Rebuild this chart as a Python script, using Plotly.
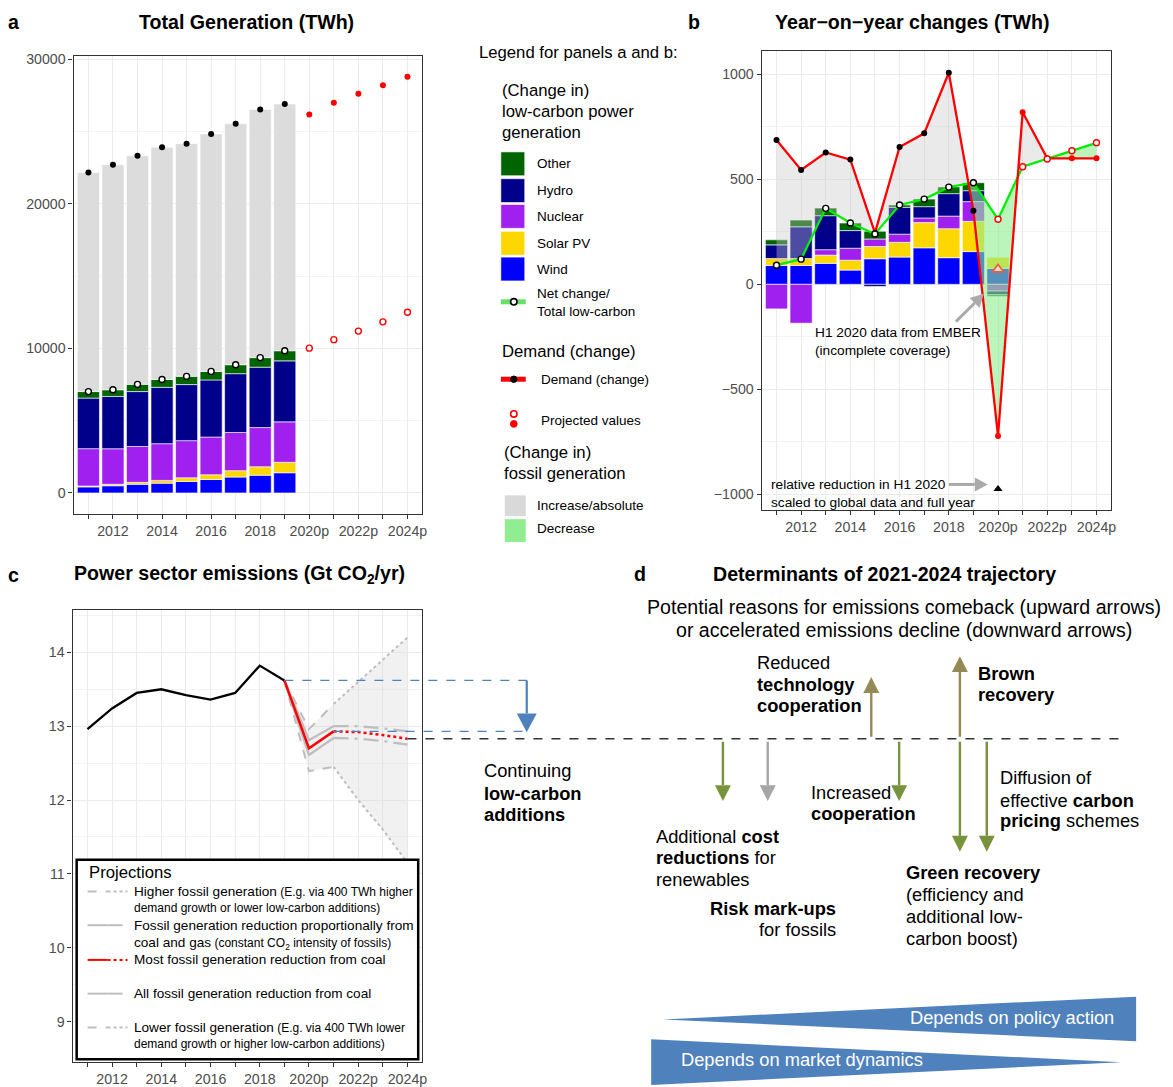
import math
import plotly.graph_objects as go

W, H = 1173, 1087
FONT = "Liberation Sans, Arial, Helvetica, sans-serif"

# ---------------- data ----------------
years_hist = list(range(2011, 2020))
years_proj = list(range(2020, 2025))
years_all = list(range(2011, 2025))
tick_text = ['', '2012', '', '2014', '', '2016', '', '2018', '', '2020p', '', '2022p', '', '2024p']

# panel a: generation by source (TWh)
gen_wind = [420, 500, 600, 680, 800, 930, 1100, 1230, 1400]
gen_solar = [65, 100, 135, 190, 250, 330, 445, 585, 720]
gen_nuclear = [2580, 2460, 2480, 2540, 2570, 2610, 2640, 2710, 2800]
gen_hydro = [3500, 3620, 3800, 3900, 3880, 3950, 4070, 4180, 4220]
gen_other = [450, 460, 500, 540, 570, 590, 620, 660, 700]
gen_total = [22170, 22710, 23330, 23920, 24170, 24830, 25540, 26530, 26910]
proj_total = [26180, 27000, 27620, 28210, 28800]
proj_lowcarbon = [10020, 10610, 11200, 11840, 12500]

# panel b: year-on-year changes (TWh); last bar entry = H1 2020 (EMBER)
chg_years = list(range(2011, 2021))
chg_wind = [90, 90, 100, 68, 122, 130, 174, 127, 156, 76]
chg_solar = [33, 33, 39, 47, 58, 70, 120, 138, 144, 53]
chg_nuclear = [-117, -185, 26, 57, 36, 39, 22, 60, 94, -32]
chg_hydro = [65, 151, 162, 84, -10, 128, 54, 107, 52, -18]
chg_other = [24, 32, 36, 36, 37, 11, 36, 32, 38, -8]
net_change = [91, 120, 362, 292, 240, 378, 406, 463, 484, 310, 560, 597, 636, 674]
demand_change = [687, 545, 628, 594, 245, 654, 719, 1008, 350, -722, 820, 600, 600, 600]
h1_net_2020 = 71
h1_scaled_2020 = -975

# panel c: emissions (Gt CO2/yr)
em_years = list(range(2011, 2020))
em_hist = [12.96, 13.24, 13.45, 13.50, 13.42, 13.36, 13.45, 13.82, 13.62]
sc_years = [2019, 2020, 2021, 2022, 2023, 2024]
sc_higher = [13.62, 12.96, 13.30, 13.60, 13.90, 14.20]
sc_prop = [13.62, 12.81, 13.00, 13.00, 12.97, 12.93]
sc_coal_most = [13.62, 12.70, 12.93, 12.92, 12.88, 12.83]
sc_coal_all = [13.62, 12.61, 12.84, 12.83, 12.80, 12.75]
sc_lower = [13.62, 12.39, 12.45, 12.00, 11.60, 11.15]

# ---------------- styling ----------------
C_WIND, C_SOLAR, C_NUC, C_HYDRO, C_OTHER = '#0000FF', '#FFD700', '#A020F0', '#00008B', '#006400'
C_FOSSIL = '#DCDCDC'
C_GREENFILL = 'rgba(144,238,144,0.6)'
C_GRAYFILL = 'rgba(200,200,200,0.38)'
C_BLUE = '#4F81BD'
C_KHAKI = '#948A54'
C_OLIVE = '#77933C'
C_SCEN = '#BEBEBE'

XR = [2010.4, 2024.6]
A_PX = dict(x=(74, 424), y=(52, 514)); A_YR = [-1470, 30260]
B_PX = dict(x=(765, 1116), y=(47, 510)); B_YR = [-1076, 1113]
C_PX = dict(x=(73, 424), y=(610, 1066)); C_YR = [8.45, 14.58]

# text sizes
S_TITLE = 19.6
S_D = 18.3
S_SUB = 19.6
S_LEGH = 16.7
S_LAB = 13.5
S_NOTE = 13.7
S_CLEG = 13.6
S_CSM = 12.0
S_TICK = 14.2


def X(px):
    return px / W


def Y(py):
    return 1 - py / H


def xdom(p):
    return [X(p['x'][0]), X(p['x'][1])]


def ydom(p):
    return [Y(p['y'][1]), Y(p['y'][0])]


def c_px_x(year):
    return C_PX['x'][0] + (year - XR[0]) / (XR[1] - XR[0]) * (C_PX['x'][1] - C_PX['x'][0])


def c_px_y(v):
    return C_PX['y'][1] - (v - C_YR[0]) / (C_YR[1] - C_YR[0]) * (C_PX['y'][1] - C_PX['y'][0])


fig = go.Figure()

# ---------------- panel a ----------------
comps_a = [(gen_wind, C_WIND), (gen_solar, C_SOLAR), (gen_nuclear, C_NUC), (gen_hydro, C_HYDRO), (gen_other, C_OTHER)]
for vals, col in comps_a:
    fig.add_trace(go.Bar(x=years_hist, y=vals, width=0.9, marker=dict(color=col, line=dict(color='white', width=0.6)),
                         xaxis='x', yaxis='y', showlegend=False, hoverinfo='skip'))
lowcarbon = [sum(v) for v in zip(gen_wind, gen_solar, gen_nuclear, gen_hydro, gen_other)]
fossil = [t - l for t, l in zip(gen_total, lowcarbon)]
fig.add_trace(go.Bar(x=years_hist, y=fossil, width=0.9, marker=dict(color=C_FOSSIL, line=dict(color='white', width=0.6)),
                     xaxis='x', yaxis='y', showlegend=False))
fig.add_trace(go.Scatter(x=years_hist, y=gen_total, mode='markers', marker=dict(color='black', size=6),
                         xaxis='x', yaxis='y', showlegend=False))
fig.add_trace(go.Scatter(x=years_hist, y=lowcarbon, mode='markers',
                         marker=dict(color='white', size=6, line=dict(color='black', width=1.4)),
                         xaxis='x', yaxis='y', showlegend=False))
fig.add_trace(go.Scatter(x=years_proj, y=proj_total, mode='markers', marker=dict(color='red', size=6),
                         xaxis='x', yaxis='y', showlegend=False))
fig.add_trace(go.Scatter(x=years_proj, y=proj_lowcarbon, mode='markers',
                         marker=dict(color='white', size=6, line=dict(color='red', width=1.4)),
                         xaxis='x', yaxis='y', showlegend=False))

# ---------------- panel b ----------------
comps_b = [(chg_wind, C_WIND), (chg_solar, C_SOLAR), (chg_nuclear, C_NUC), (chg_hydro, C_HYDRO), (chg_other, C_OTHER)]
for vals, col in comps_b:
    fig.add_trace(go.Bar(x=chg_years, y=vals, width=0.9, marker=dict(color=col, line=dict(color='white', width=0.6)),
                         xaxis='x2', yaxis='y2', showlegend=False))


def fill_segments(xs, top, bot):
    segs = []
    cx, ca, cb = [xs[0]], [top[0]], [bot[0]]
    sign = 1 if top[0] - bot[0] >= 0 else -1
    for i in range(1, len(xs)):
        d0 = top[i - 1] - bot[i - 1]
        d1 = top[i] - bot[i]
        if d0 * d1 < 0:
            t = d0 / (d0 - d1)
            xc = xs[i - 1] + t * (xs[i] - xs[i - 1])
            yc = top[i - 1] + t * (top[i] - top[i - 1])
            cx.append(xc); ca.append(yc); cb.append(yc)
            segs.append((sign, cx, ca, cb))
            cx, ca, cb = [xc], [yc], [yc]
            sign = 1 if d1 > 0 else -1
        cx.append(xs[i]); ca.append(top[i]); cb.append(bot[i])
    segs.append((sign, cx, ca, cb))
    return segs


for sign, sx, sa, sb in fill_segments(years_all, demand_change, net_change):
    fig.add_trace(go.Scatter(x=sx + sx[::-1], y=sa + sb[::-1], fill='toself', mode='lines', line=dict(width=0),
                             fillcolor=C_GRAYFILL if sign > 0 else C_GREENFILL,
                             xaxis='x2', yaxis='y2', showlegend=False, hoverinfo='skip'))

fig.add_trace(go.Scatter(x=years_all, y=net_change, mode='lines', line=dict(color='#00EE00', width=2.3),
                         xaxis='x2', yaxis='y2', showlegend=False))
fig.add_trace(go.Scatter(x=years_all, y=demand_change, mode='lines', line=dict(color='#FF0000', width=2.3),
                         xaxis='x2', yaxis='y2', showlegend=False))
nh = len(years_hist)
fig.add_trace(go.Scatter(x=years_hist, y=demand_change[:nh], mode='markers', marker=dict(color='black', size=6),
                         xaxis='x2', yaxis='y2', showlegend=False))
fig.add_trace(go.Scatter(x=years_proj, y=demand_change[nh:], mode='markers', marker=dict(color='red', size=6),
                         xaxis='x2', yaxis='y2', showlegend=False))
fig.add_trace(go.Scatter(x=years_hist, y=net_change[:nh], mode='markers',
                         marker=dict(color='white', size=6, line=dict(color='black', width=1.4)),
                         xaxis='x2', yaxis='y2', showlegend=False))
fig.add_trace(go.Scatter(x=years_proj, y=net_change[nh:], mode='markers',
                         marker=dict(color='white', size=6, line=dict(color='red', width=1.4)),
                         xaxis='x2', yaxis='y2', showlegend=False))
fig.add_trace(go.Scatter(x=[2020], y=[h1_net_2020], mode='markers',
                         marker=dict(symbol='triangle-up', color='rgba(255,235,215,0.8)', size=10,
                                     line=dict(color='#E8603C', width=1.6)),
                         xaxis='x2', yaxis='y2', showlegend=False))
fig.add_trace(go.Scatter(x=[2020], y=[h1_scaled_2020], mode='markers',
                         marker=dict(symbol='triangle-up', color='black', size=8),
                         xaxis='x2', yaxis='y2', showlegend=False))

# ---------------- panel c ----------------
fig.add_trace(go.Scatter(x=sc_years + sc_years[::-1], y=sc_higher + sc_lower[::-1], fill='toself', mode='lines',
                         line=dict(width=0), fillcolor='rgba(215,215,215,0.35)',
                         xaxis='x3', yaxis='y3', showlegend=False, hoverinfo='skip'))
scen_styles = [
    (sc_higher, 'dash', 'dot', C_SCEN, 2.0),
    (sc_lower, 'dash', 'dot', C_SCEN, 2.0),
    (sc_prop, 'solid', 'longdashdot', C_SCEN, 2.3),
    (sc_coal_all, 'solid', 'longdashdot', C_SCEN, 2.3),
    (sc_coal_most, 'solid', 'dot', '#FF0000', 2.5),
]
for vals, d1, d2, col, lw in scen_styles:
    fig.add_trace(go.Scatter(x=sc_years[:3], y=vals[:3], mode='lines', line=dict(color=col, width=lw, dash=d1),
                             xaxis='x3', yaxis='y3', showlegend=False))
    fig.add_trace(go.Scatter(x=sc_years[2:], y=vals[2:], mode='lines', line=dict(color=col, width=lw, dash=d2),
                             xaxis='x3', yaxis='y3', showlegend=False))
fig.add_trace(go.Scatter(x=em_years, y=em_hist, mode='lines', line=dict(color='black', width=2.3),
                         xaxis='x3', yaxis='y3', showlegend=False))

# ---------------- axes ----------------
common = dict(showline=True, mirror=True, linecolor='#333333', linewidth=1.4, ticks='outside', ticklen=4,
              tickwidth=1.1, tickcolor='#333333', tickfont=dict(size=S_TICK, color='#4D4D4D', family=FONT),
              showgrid=True, gridcolor='#EBEBEB', gridwidth=1.1, zeroline=False, fixedrange=True)
xcommon = dict(common, tickmode='array', tickvals=years_all, ticktext=tick_text, range=XR)

a_major = [0, 10000, 20000, 30000]
a_minor = [5000, 15000, 25000]
b_major = [-1000, -500, 0, 500, 1000]
b_labels = ['\u22121000', '\u2212500', '0', '500', '1000']
b_minor = [-750, -250, 250, 750]
c_major = [9, 10, 11, 12, 13, 14]
c_minor = [8.5, 9.5, 10.5, 11.5, 12.5, 13.5, 14.5]


def minor(vals):
    return dict(tickmode='array', tickvals=vals, showgrid=True, gridcolor='#F3F3F3', gridwidth=0.9, ticks='')


layout = dict(
    width=W, height=H, autosize=False, margin=dict(l=0, r=0, t=0, b=0),
    paper_bgcolor='white', plot_bgcolor='white', barmode='relative', bargap=0.1,
    font=dict(family=FONT, color='black'), showlegend=False,
    xaxis=dict(xcommon, domain=xdom(A_PX), anchor='y'),
    yaxis=dict(common, domain=ydom(A_PX), anchor='x', range=A_YR, tickmode='array', tickvals=a_major,
               ticktext=[str(v) for v in a_major], minor=minor(a_minor)),
    xaxis2=dict(xcommon, domain=xdom(B_PX), anchor='y2'),
    yaxis2=dict(common, domain=ydom(B_PX), anchor='x2', range=B_YR, tickmode='array', tickvals=b_major,
                ticktext=b_labels, minor=minor(b_minor)),
    xaxis3=dict(xcommon, domain=xdom(C_PX), anchor='y3'),
    yaxis3=dict(common, domain=ydom(C_PX), anchor='x3', range=C_YR, tickmode='array', tickvals=c_major,
                ticktext=[str(v) for v in c_major], minor=minor(c_minor)),
)
fig.update_layout(**layout)

# ---------------- annotations & shapes ----------------
ann = []
shapes = []


def text(x, y, s, size=S_D, anchor='left', color='black'):
    ann.append(dict(x=X(x), y=Y(y), xref='paper', yref='paper', text=s, showarrow=False, xanchor=anchor,
                    yanchor='middle', font=dict(size=size, color=color, family=FONT)))


def rect(x0, y0, x1, y1, fill, lc=None, lw=0):
    shapes.append(dict(type='rect', xref='paper', yref='paper', x0=X(x0), x1=X(x1), y0=Y(y1), y1=Y(y0),
                       fillcolor=fill, line=dict(color=lc or fill, width=lw), layer='above'))


def seg(x0, y0, x1, y1, color, width, dash='solid'):
    shapes.append(dict(type='line', xref='paper', yref='paper', x0=X(x0), x1=X(x1), y0=Y(y0), y1=Y(y1),
                       line=dict(color=color, width=width, dash=dash), layer='above'))


def poly(pts, fill):
    p = 'M ' + ' L '.join(f'{X(a):.5f},{Y(b):.5f}' for a, b in pts) + ' Z'
    shapes.append(dict(type='path', xref='paper', yref='paper', path=p, fillcolor=fill, line=dict(width=0),
                       layer='above'))


def dot(x, y, r, fill, lc, lw=1.3):
    shapes.append(dict(type='circle', xref='paper', yref='paper', x0=X(x - r), x1=X(x + r), y0=Y(y + r),
                       y1=Y(y - r), fillcolor=fill, line=dict(color=lc, width=lw), layer='above'))


def arrow2(x0, y0, x1, y1, color, lw=2.4, hw=8, hh=16):
    dx, dy = x1 - x0, y1 - y0
    L = math.hypot(dx, dy)
    ux, uy = dx / L, dy / L
    nx, ny = x1 - ux * hh, y1 - uy * hh
    px, py = -uy, ux
    seg(x0, y0, nx, ny, color, lw)
    poly([(nx + px * hw, ny + py * hw), (nx - px * hw, ny - py * hw), (x1, y1)], color)


def arrow(x, yb, yt, color, lw=2.4, hw=8, hh=16):
    arrow2(x, yb, x, yt, color, lw, hw, hh)


# titles
text(14, 18, '<b>a</b>', S_TITLE, 'center')
text(248, 18, '<b>Total Generation (TWh)</b>', S_TITLE, 'center')
text(697, 18, '<b>b</b>', S_TITLE, 'center')
text(916, 18, '<b>Year\u2212on\u2212year changes (TWh)</b>', S_TITLE, 'center')
text(14, 575, '<b>c</b>', S_TITLE, 'center')
text(241, 575, '<b>Power sector emissions (Gt CO<sub>2</sub>/yr)</b>', S_TITLE, 'center')
text(643, 574, '<b>d</b>', S_TITLE, 'center')
text(888, 574, '<b>Determinants of 2021-2024 trajectory</b>', S_TITLE, 'center')

# middle legend
text(479, 49, 'Legend for panels a and b:', S_LEGH)
text(502, 87, '(Change in)', S_LEGH)
text(502, 108, 'low-carbon power', S_LEGH)
text(502, 129, 'generation', S_LEGH)
leg_items = [('Other', C_OTHER, 149), ('Hydro', C_HYDRO, 176), ('Nuclear', C_NUC, 202), ('Solar PV', C_SOLAR, 229),
             ('Wind', C_WIND, 255)]
for name, col, y0 in leg_items:
    rect(503, y0, 527, y0 + 24, col, 'white', 0.6)
    text(537, y0 + 12, name, S_LAB)
seg(503, 300, 528, 300, '#66E066', 5)
dot(516, 300, 3.2, 'white', 'black', 1.6)
text(537, 292, 'Net change/', S_LAB)
text(537, 310, 'Total low-carbon', S_LAB)
text(502, 350, 'Demand (change)', S_LEGH)
seg(503, 378, 528, 378, '#FF0000', 5)
dot(516, 378, 3.2, 'black', 'black', 1)
text(541, 378, 'Demand (change)', S_LAB)
dot(516, 413, 3.2, 'white', 'red', 1.6)
dot(516, 423, 3.4, 'red', 'red', 1)
text(541, 420, 'Projected values', S_LAB)
text(504, 452, '(Change in)', S_LEGH)
text(504, 473, 'fossil generation', S_LEGH)
rect(507, 495, 528, 516, '#D9D9D9')
text(537, 505, 'Increase/absolute', S_LAB)
rect(507, 519, 528, 542, '#90EE90')
text(537, 528, 'Decrease', S_LAB)

# panel b notes
text(816, 331, 'H1 2020 data from EMBER', S_NOTE)
text(816, 349, '(incomplete coverage)', S_NOTE)
text(772, 484, 'relative reduction in H1 2020', S_NOTE)
text(772, 502, 'scaled to global data and full year', S_NOTE)
arrow2(960, 320, 988, 292, '#AAAAAA', lw=3, hw=7, hh=13)
arrow2(953, 484, 992, 484, '#AAAAAA', lw=3, hw=7, hh=13)

# panel c legend box
rect(77, 862, 420, 1063, 'white', 'black', 2.5)
text(87, 875, 'Projections', S_LEGH)
legend_rows = [
    (894, 'dash', 'dot', C_SCEN),
    (928, 'solid', 'longdashdot', C_SCEN),
    (963, 'solid', 'dot', '#FF0000'),
    (997, 'solid', 'longdashdot', C_SCEN),
    (1031, 'dash', 'dot', C_SCEN),
]
for yy, d1, d2, col in legend_rows:
    seg(88, yy, 108, yy, col, 2, d1)
    seg(108, yy, 128, yy, col, 2, d2)
text(133, 894, f"Higher fossil generation<span style='font-size:{S_CSM}px'> (E.g. via 400 TWh higher</span>", S_CLEG)
text(133, 911, 'demand growth or lower low-carbon additions)', S_CSM)
text(133, 928, 'Fossil generation reduction proportionally from', S_CLEG)
text(133, 946, f"coal and gas<span style='font-size:{S_CSM}px'> (constant CO<sub>2</sub> intensity of fossils)</span>", S_CLEG)
text(133, 963, 'Most fossil generation reduction from coal', S_CLEG)
text(133, 997, 'All fossil generation reduction from coal', S_CLEG)
text(133, 1031, f"Lower fossil generation<span style='font-size:{S_CSM}px'> (E.g. via 400 TWh lower</span>", S_CLEG)
text(133, 1048, 'demand growth or higher low-carbon additions)', S_CSM)

# connecting lines from panel c
y_2019 = c_px_y(em_hist[-1])
y_2021 = c_px_y(sc_coal_most[2])
y_2024 = c_px_y(sc_coal_most[-1])
XB = 529
seg(c_px_x(2019), y_2019, XB, y_2019, C_BLUE, 1.4, 'dash')
seg(c_px_x(2021), y_2021, XB, y_2021, C_BLUE, 1.4, 'dash')
arrow(XB, y_2019, y_2021 + 1, C_BLUE, lw=2.2, hw=10, hh=19)
seg(c_px_x(2024), y_2024, 1127, y_2024, '#333333', 1.3, 'dash')

# panel d text
text(908, 607, 'Potential reasons for emissions comeback (upward arrows)', S_SUB, 'center')
text(908, 631, 'or accelerated emissions decline (downward arrows)', S_SUB, 'center')
text(484, 772, 'Continuing', S_D)
text(484, 795, '<b>low-carbon</b>', S_D)
text(484, 817, '<b>additions</b>', S_D)
text(758, 663, 'Reduced', S_D)
text(758, 686, '<b>technology</b>', S_D)
text(758, 707, '<b>cooperation</b>', S_D)
text(980, 674, '<b>Brown</b>', S_D)
text(980, 696, '<b>recovery</b>', S_D)
text(657, 839, 'Additional <b>cost</b>', S_D)
text(657, 860, '<b>reductions</b> for', S_D)
text(657, 882, 'renewables', S_D)
text(812, 794, 'Increased', S_D)
text(812, 816, '<b>cooperation</b>', S_D)
text(1002, 779, 'Diffusion of', S_D)
text(1002, 802, 'effective <b>carbon</b>', S_D)
text(1002, 823, '<b>pricing</b> schemes', S_D)
text(908, 875, '<b>Green recovery</b>', S_D)
text(908, 897, '(efficiency and', S_D)
text(908, 919, 'additional low-', S_D)
text(908, 941, 'carbon boost)', S_D)
text(842, 911, '<b>Risk mark-ups</b>', S_D, 'right')
text(842, 932, 'for fossils', S_D, 'right')

yl = y_2024
arrow(875, yl - 2, 678, C_KHAKI)
arrow(964, yl - 2, 657, C_KHAKI)
arrow(726, yl + 3, 803, C_OLIVE)
arrow(771, yl + 3, 803, '#A6A6A6')
arrow(903, yl + 3, 803, C_OLIVE)
arrow(964, yl + 3, 854, C_OLIVE)
arrow(991, yl + 3, 854, C_OLIVE)

# wedges
poly([(666, 1023), (1141, 1000), (1141, 1045)], C_BLUE)
poly([(654, 1043), (654, 1089), (1126, 1066)], C_BLUE)
text(1121, 1021, 'Depends on policy action', S_D, 'right', 'white')
text(682, 1063, 'Depends on market dynamics', S_D, 'left', 'white')

fig.update_layout(annotations=ann, shapes=shapes)
fig.write_html('out.html', config={'displayModeBar': False},
               post_script="document.body.style.margin='0px';document.body.style.overflow='hidden';")
